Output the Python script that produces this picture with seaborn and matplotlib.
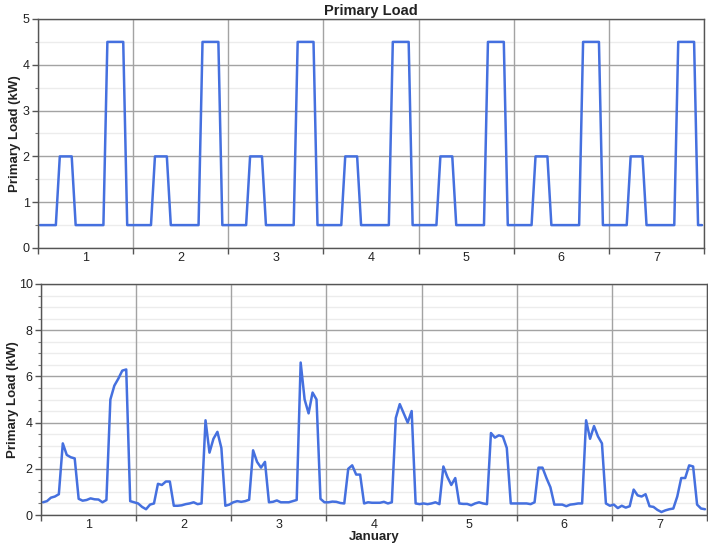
import numpy as np
import pandas as pd
import matplotlib
matplotlib.use("Agg")
import matplotlib.pyplot as plt
import seaborn as sns
from matplotlib.ticker import MultipleLocator, FixedLocator, NullFormatter

# ---------------- data ----------------
day_labels = ["1", "2", "3", "4", "5", "6", "7"]
hour_of_week = np.arange(168) + 0.5  # hourly samples, plotted at hour centres

# Top: baseline daily profile (kW), identical every day
top_day_profile = [0.5, 0.5, 0.5, 0.5, 0.5, 2.0, 2.0, 2.0, 2.0, 0.5, 0.5, 0.5,
                   0.5, 0.5, 0.5, 0.5, 0.5, 4.5, 4.5, 4.5, 4.5, 4.5, 0.5, 0.5]
top_load = top_day_profile * 7

# Bottom: load with random variability (kW), per day
bottom_day1 = [0.55, 0.6, 0.75, 0.8, 0.9, 3.1, 2.6, 2.5, 2.45, 0.7, 0.62, 0.65,
               0.72, 0.68, 0.67, 0.55, 0.65, 5.0, 5.6, 5.9, 6.25, 6.3, 0.6, 0.55]
bottom_day2 = [0.5, 0.35, 0.25, 0.45, 0.5, 1.35, 1.3, 1.45, 1.45, 0.4, 0.4, 0.42,
               0.47, 0.5, 0.55, 0.47, 0.5, 4.1, 2.7, 3.3, 3.6, 2.9, 0.4, 0.45]
bottom_day3 = [0.55, 0.6, 0.57, 0.6, 0.66, 2.8, 2.3, 2.05, 2.3, 0.55, 0.57, 0.63,
               0.55, 0.55, 0.55, 0.6, 0.65, 6.6, 5.0, 4.4, 5.3, 5.0, 0.7, 0.55]
bottom_day4 = [0.55, 0.58, 0.57, 0.52, 0.5, 2.0, 2.15, 1.75, 1.75, 0.5, 0.55, 0.53,
               0.53, 0.53, 0.57, 0.5, 0.55, 4.2, 4.8, 4.4, 4.0, 4.5, 0.5, 0.47]
bottom_day5 = [0.5, 0.47, 0.5, 0.55, 0.47, 2.1, 1.65, 1.3, 1.6, 0.5, 0.48, 0.48,
               0.42, 0.5, 0.55, 0.5, 0.47, 3.55, 3.35, 3.45, 3.4, 2.9, 0.5, 0.5]
bottom_day6 = [0.5, 0.5, 0.5, 0.47, 0.55, 2.05, 2.05, 1.6, 1.2, 0.45, 0.45, 0.45,
               0.38, 0.45, 0.47, 0.5, 0.5, 4.1, 3.3, 3.85, 3.4, 3.1, 0.5, 0.4]
bottom_day7 = [0.45, 0.3, 0.4, 0.32, 0.38, 1.1, 0.85, 0.8, 0.9, 0.38, 0.35, 0.22,
               0.13, 0.2, 0.25, 0.28, 0.8, 1.6, 1.6, 2.15, 2.1, 0.45, 0.28, 0.25]
bottom_load = (bottom_day1 + bottom_day2 + bottom_day3 + bottom_day4 +
               bottom_day5 + bottom_day6 + bottom_day7)

df_top = pd.DataFrame({"hour": hour_of_week, "load": top_load})
df_bot = pd.DataFrame({"hour": hour_of_week, "load": bottom_load})

# ---------------- style ----------------
sns.set_theme(style="white")
plt.rcParams["font.family"] = ["Liberation Sans", "DejaVu Sans"]

LINE = "#4570DF"
fig = plt.figure(figsize=(7.08, 5.46), dpi=100)
ax1 = fig.add_axes([38 / 708, 1 - 248 / 546, 666 / 708, 229 / 546])
ax2 = fig.add_axes([41 / 708, 1 - 515 / 546, 666 / 708, 231 / 546])

sns.lineplot(data=df_top, x="hour", y="load", ax=ax1, color=LINE,
             linewidth=1.8, estimator=None)
sns.lineplot(data=df_bot, x="hour", y="load", ax=ax2, color=LINE,
             linewidth=1.8, estimator=None)


def style(ax, ymax, ymajor, ylabel_x):
    ax.set_xlim(0, 168)
    ax.set_ylim(0, ymax)
    ax.set_facecolor("white")
    ax.xaxis.set_major_locator(MultipleLocator(24))
    ax.xaxis.set_major_formatter(NullFormatter())
    ax.xaxis.set_minor_locator(FixedLocator([12 + 24 * i for i in range(7)]))
    ax.set_xticklabels(day_labels, minor=True)
    ax.yaxis.set_major_locator(MultipleLocator(ymajor))
    ax.yaxis.set_minor_locator(MultipleLocator(0.5))
    ax.tick_params(axis="x", which="major", length=4, width=1, color="#555555",
                   direction="out", bottom=True)
    ax.tick_params(axis="x", which="minor", length=0, labelsize=9,
                   labelcolor="#222222", pad=3)
    ax.tick_params(axis="y", which="major", length=4, width=1, color="#555555",
                   direction="out", left=True, labelsize=9,
                   labelcolor="#222222", pad=2)
    ax.tick_params(axis="y", which="minor", length=2, width=0.8,
                   color="#777777", direction="out", left=True)
    ax.grid(False)
    ax.grid(which="major", axis="both", color="#a3a3a3", linewidth=1.0)
    ax.grid(which="minor", axis="y", color="#ececec", linewidth=1.0)
    ax.set_axisbelow(True)
    # y grid (incl. light minor lines) below the vertical day lines
    ax.yaxis.set_zorder(0.3)
    ax.xaxis.set_zorder(0.4)
    for sp in ax.spines.values():
        sp.set_visible(True)
        sp.set_color("#555555")
        sp.set_linewidth(1.0)
    ax.set_ylabel("Primary Load (kW)", fontsize=9.5, fontweight="bold",
                  color="#222222")
    ax.yaxis.set_label_coords(ylabel_x, 0.5)


style(ax1, 5, 1, -0.026)
style(ax2, 10, 2, -0.033)

ax1.set_xlabel("")
ax1.set_title("Primary Load", fontsize=10.5, fontweight="bold",
              color="#222222", pad=3)
ax2.set_xlabel("January", fontsize=9.5, fontweight="bold", color="#222222",
               labelpad=0)

fig.savefig("out.png", dpi=100, facecolor="white")
